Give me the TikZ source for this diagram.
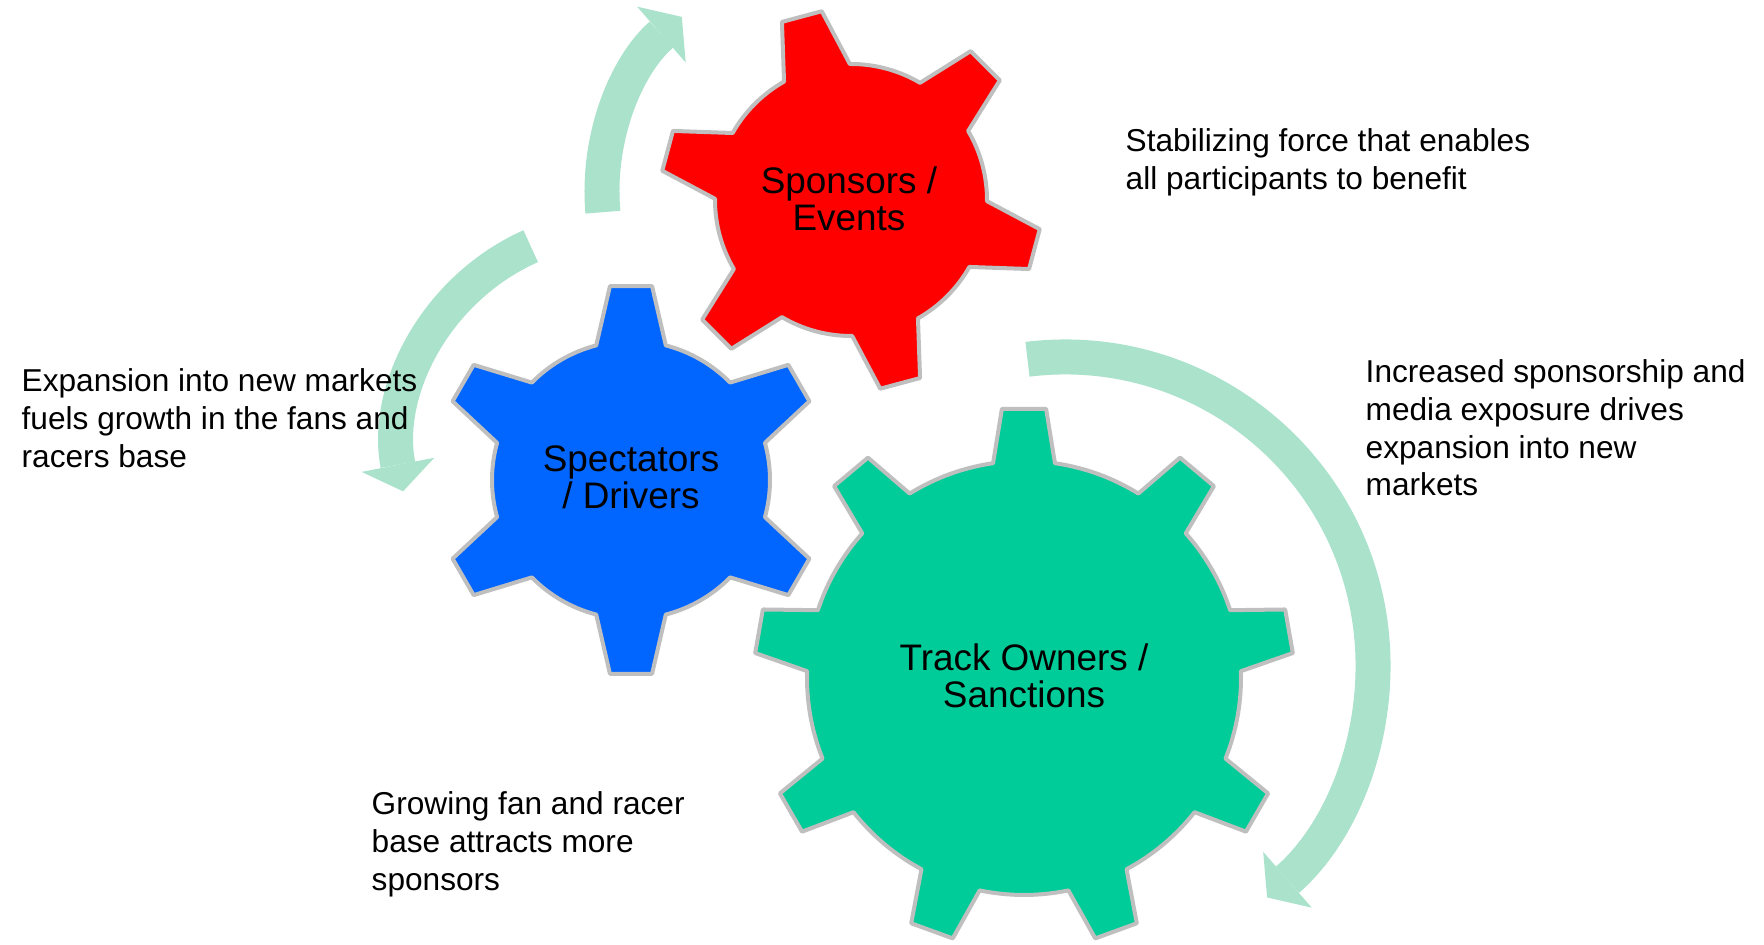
\documentclass[tikz,border=0pt]{standalone}
\usepackage{fontspec}
\setmainfont{Liberation Sans}
\usepackage{tikz}
\usetikzlibrary{arrows.meta,calc}
\definecolor{gearred}{RGB}{255,0,0}
\definecolor{gearblue}{RGB}{0,102,255}
\definecolor{geargreen}{RGB}{0,204,153}
\definecolor{cyclemint}{RGB}{170,226,204}
\definecolor{rimgray}{RGB}{191,191,191}

\newcommand{\drawgear}[8]{%
  \begin{scope}[shift={#2}]
    \pgfmathsetmacro{\gstep}{360/#3}
    \draw[gearrim,fill=#1] ({#4-#7}:#5)
      \foreach \k in {1,...,#3}{
        -- ({#4+(\k-1)*\gstep-#8}:#6) -- ({#4+(\k-1)*\gstep+#8}:#6)
        -- ({#4+(\k-1)*\gstep+#7}:#5)
        arc[start angle={#4+(\k-1)*\gstep+#7}, end angle={#4+\k*\gstep-#7}, radius=#5]
      } -- cycle;
  \end{scope}}

\begin{document}
\begin{tikzpicture}[
  gearrim/.style={draw=rimgray,line width=0.04cm,line join=round},
  gearlabel/.style={align=center,font=\fontsize{10.5}{10.5}\selectfont,inner sep=0pt},
  note/.style={align=left,anchor=north west,font=\fontsize{9}{10.75}\selectfont,inner sep=0pt},
  cyclearrow/.style={draw=cyclemint,line width=0.35cm,-{Triangle[width=0.74cm,length=0.27cm,line width=0pt]}}]
\useasboundingbox (0,0) rectangle (17.64,9.45);

\coordinate (topturn) at (8.34,7.53);
\coordinate (leftturn) at (6.21,4.96);
\coordinate (rightturn) at (10.65,2.80);
\draw[cyclearrow] ($(topturn)+(185:2.32)$) arc[start angle=185,end angle=131,radius=2.32];
\draw[cyclearrow] ($(leftturn)+(114:2.22)$) arc[start angle=114,end angle=191,radius=2.22];
\draw[cyclearrow] ($(rightturn)+(97:3.08)$) arc[start angle=97,end angle=-49,radius=3.08];

\drawgear{gearblue}{(6.31,4.65)}{6}{30}{1.39}{1.95}{14.5}{6.2}
\drawgear{gearred}{(8.51,7.45)}{6}{45}{1.36}{1.91}{14.5}{6.2}
\drawgear{geargreen}{(10.24,2.67)}{9}{90}{2.17}{2.70}{8.2}{4.7}

\node[gearlabel] (sponsors) at (8.49,7.46) {Sponsors /\\Events};
\node[gearlabel] (spectators) at (6.31,4.68) {Spectators\\/ Drivers};
\node[gearlabel] (track) at (10.24,2.69) {Track Owners /\\Sanctions};

\node[note] (stabilizing) at (11.25,8.17) {Stabilizing force that enables\\all participants to benefit};
\node[note] (exposure) at (13.65,5.86) {Increased sponsorship and\\media exposure drives\\expansion into new\\markets};
\node[note] (expansion) at (0.21,5.77) {Expansion into new markets\\fuels growth in the fans and\\racers base};
\node[note] (fanbase) at (3.71,1.54) {Growing fan and racer\\base attracts more\\sponsors};
\end{tikzpicture}
\end{document}
